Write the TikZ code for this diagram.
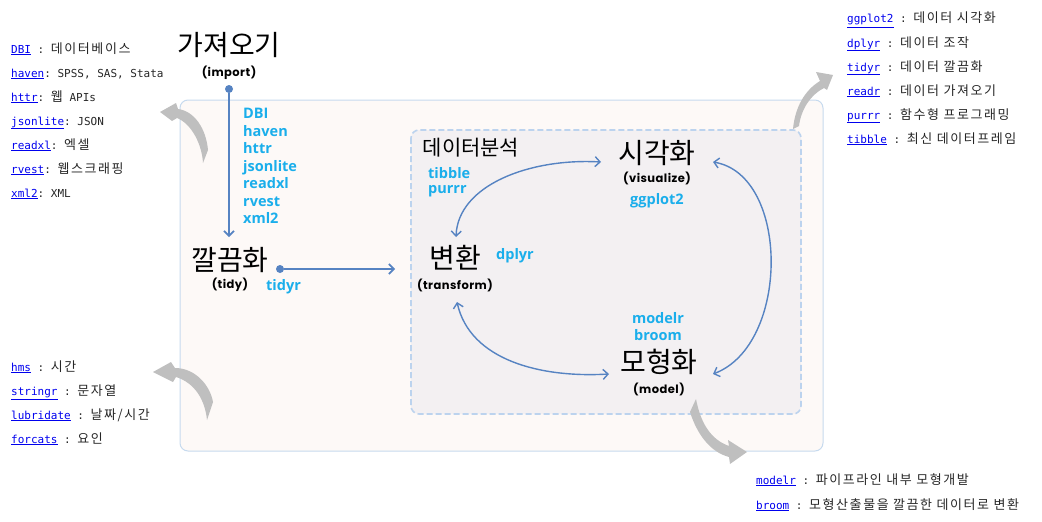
\documentclass[tikz,border=0pt]{standalone}
\usepackage{fontspec}
\usetikzlibrary{arrows.meta}
\setmonofont{DejaVu Sans Mono}
\newfontfamily\krfont{Noto Sans CJK KR}
\newfontfamily\krlist[LetterSpace=12]{Noto Sans CJK KR}
\newfontfamily\pkfont{Open Sans}
\newfontfamily\handfont[LetterSpace=4]{Poppins}
\definecolor{linkblue}{HTML}{0000EE}
\definecolor{pkgblue}{HTML}{1AAEEB}
\definecolor{flowblue}{HTML}{5683C2}
\definecolor{outerfill}{HTML}{FDF9F7}
\definecolor{outerline}{HTML}{C6DAEE}
\definecolor{innerfill}{HTML}{F3F0F2}
\definecolor{innerline}{HTML}{BCD3EE}
\definecolor{grayarrow}{HTML}{BFBFBF}
\newcommand\pk[1]{\textcolor{linkblue}{\underline{#1}}}
\newcommand\kr[1]{{\krlist\fontsize{13}{14}\selectfont #1}}
\tikzset{
  listtext/.style={anchor=base west, inner sep=0pt, font=\ttfamily\fontsize{11}{13}\selectfont, text=black!85},
  title/.style={inner sep=0pt, font=\krfont\fontsize{28}{30}\selectfont},
  subtitle/.style={inner sep=0pt, font=\handfont\bfseries\fontsize{11.5}{13}\selectfont},
  pkgl/.style={inner sep=0pt, font=\pkfont\bfseries\fontsize{14.5}{16}\selectfont, text=pkgblue},
  flow/.style={draw=flowblue, line width=1.6pt, -{Straight Barb[length=5pt,width=10pt]}},
  flow2/.style={draw=flowblue, line width=1.4pt, {Straight Barb[length=5pt,width=10pt]}-{Straight Barb[length=5pt,width=10pt]}},
  bigarrow/.style={fill=grayarrow, draw=none},
  dot/.style={circle, fill=flowblue, inner sep=0pt, minimum size=8pt}
}
\begin{document}
\begin{tikzpicture}[x=1pt,y=-1pt]
\useasboundingbox (0,0) rectangle (1042,522);
% boxes
\draw[fill=outerfill, draw=outerline, line width=1pt, rounded corners=8pt] (180,100) rectangle (823,451);
\draw[fill=innerfill, draw=innerline, line width=1.6pt, dash pattern=on 6pt off 3pt, rounded corners=8pt] (411,130) rectangle (801,414);

% gray arrows (tapered)
\fill[bigarrow] (160,112) -- (176,103) -- (178,109) .. controls (194,111) and (206,128) .. (208,150)
  -- (203,163) .. controls (202,145) and (192,124) .. (177,118) -- (172,121) -- cycle;
\fill[bigarrow] (153,372) -- (171,362) -- (175,368) .. controls (195,368) and (210,385) .. (213,402)
  -- (207,420) .. controls (205,400) and (195,383) .. (176,377) -- (173,382) -- cycle;
\fill[bigarrow] (833,75) -- (816,72) -- (820,81) .. controls (805,90) and (795,107) .. (793,129)
  -- (799,126) .. controls (801,110) and (810,95) .. (824,88) -- (827,90) -- cycle;
\fill[bigarrow] (747,452) -- (728,440) -- (729,446) .. controls (712,440) and (701,425) .. (696,399)
  -- (690,412) .. controls (697,434) and (710,452) .. (729,457) -- (730,464) -- cycle;

% top-left list
\node[listtext] (l1) at (11,53) {\pk{DBI} : \kr{데이터베이스}};
\node[listtext] (l2) at (11,77) {\pk{haven}: SPSS, SAS, Stata};
\node[listtext] (l3) at (11,101) {\pk{httr}: \kr{웹} APIs};
\node[listtext] (l4) at (11,125) {\pk{jsonlite}: JSON};
\node[listtext] (l5) at (11,149) {\pk{readxl}: \kr{엑셀}};
\node[listtext] (l6) at (11,173) {\pk{rvest}: \kr{웹스크래핑}};
\node[listtext] (l7) at (11,197) {\pk{xml2}: XML};

% bottom-left list
\node[listtext] (b1) at (11,371) {\pk{hms} : \kr{시간}};
\node[listtext] (b2) at (11,395) {\pk{stringr} : \kr{문자열}};
\node[listtext] (b3) at (11,419) {\pk{lubridate} : \kr{날짜/시간}};
\node[listtext] (b4) at (11,443) {\pk{forcats} : \kr{요인}};

% top-right list
\node[listtext] (r1) at (847,23) {\pk{ggplot2} : \kr{데이터 시각화}};
\node[listtext] (r2) at (847,47) {\pk{dplyr} : \kr{데이터 조작}};
\node[listtext] (r3) at (847,71) {\pk{tidyr} : \kr{데이터 깔끔화}};
\node[listtext] (r4) at (847,95) {\pk{readr} : \kr{데이터 가져오기}};
\node[listtext] (r5) at (847,119) {\pk{purrr} : \kr{함수형 프로그래밍}};
\node[listtext] (r6) at (847,143) {\pk{tibble} : \kr{최신 데이터프레임}};

% bottom-right list
\node[listtext] (m1) at (756,484) {\pk{modelr} : \kr{파이프라인 내부 모형개발}};
\node[listtext] (m2) at (756,509) {\pk{broom} : \kr{모형산출물을 깔끔한 데이터로 변환}};

% import
\node[title] (import) at (229,45) {가져오기};
\node[subtitle] (importsub) at (229,73) {(import)};
\node[dot] (importdot) at (229,89) {};
\coordinate (importend) at (229,237);
\draw[flow] (importdot) -- (importend);
\foreach \t [count=\i] in {DBI,haven,httr,jsonlite,readxl,rvest,xml2}
  \node[pkgl, anchor=base west] (ip\i) at (243,118.5+17.5*\i-17.5) {\t};

% tidy
\node[title] (tidy) at (230,260) {깔끔화};
\node[subtitle] (tidysub) at (230,285) {(tidy)};
\node[pkgl, anchor=west] (tidyr) at (266,287) {tidyr};
\node[dot] (tidydot) at (280,269) {};
\coordinate (tidyend) at (395,269);
\draw[flow] (tidydot) -- (tidyend);

% analysis
\node[font=\krfont\fontsize{21}{23}\selectfont, inner sep=0pt] (analysis) at (471,148) {데이터분석};
\node[pkgl, anchor=west] (tibble) at (428,173) {tibble};
\node[pkgl, anchor=west] (purrr) at (428,191) {purrr};

% visualize
\node[title] (vis) at (657,153) {시각화};
\node[subtitle] (vissub) at (657,178) {(visualize)};
\node[pkgl] (ggplot) at (657,201) {ggplot2};

% transform
\node[title] (trans) at (455,258) {변환};
\node[subtitle] (transsub) at (455,285) {(transform)};
\node[pkgl, anchor=west] (dplyr) at (496,256) {dplyr};

% model
\node[title] (model) at (659,362) {모형화};
\node[subtitle] (modelsub) at (659,389) {(model)};
\node[pkgl] (modelr) at (658,318) {modelr};
\node[pkgl] (broom) at (658,335) {broom};

% cycle arrows
\coordinate (visL) at (601,162);
\coordinate (visR) at (713,162);
\coordinate (transT) at (456,237);
\coordinate (transB) at (457,302);
\coordinate (modL) at (609,374);
\coordinate (modR) at (713,374);
\draw[flow2] (visL) .. controls (530,158) and (458,185) .. (transT);
\draw[flow2] (transB) .. controls (470,360) and (540,378) .. (modL);
\draw[flow2] (visR) .. controls (790,175) and (790,345) .. (modR);
\end{tikzpicture}
\end{document}
